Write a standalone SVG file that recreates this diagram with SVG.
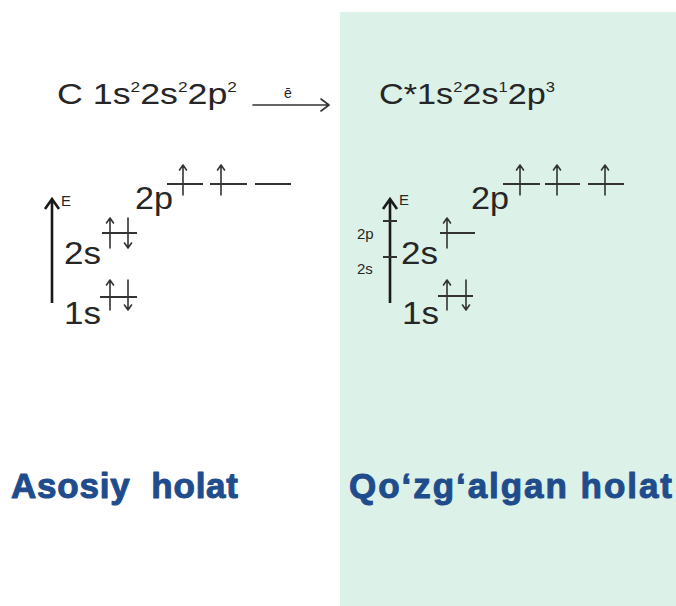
<svg xmlns="http://www.w3.org/2000/svg" width="676" height="606" viewBox="0 0 676 606">
<style>
.t{font-family:"Liberation Sans",Arial,sans-serif;fill:#262626}
.big{font-size:32px}
.sm{font-size:15px}
.lvl{stroke:#333;stroke-width:1.8;fill:none}
.e{stroke:#333;stroke-width:1.6;fill:none;stroke-linecap:round;stroke-linejoin:round}
.ax{stroke:#1a1a1a;stroke-width:2.6;fill:none;stroke-linejoin:miter}
.lab{font-family:"Liberation Sans",Arial,sans-serif;font-weight:bold;font-size:35px;fill:#1f4c8c;stroke:#1f4c8c;stroke-width:1;stroke-linejoin:round;white-space:pre}
</style>
<rect id="panel" x="340" y="12" width="336" height="594" fill="#dcf1e8"/>

<g id="title-ground">
<text class="t" x="57" y="104" font-size="29" textLength="180" lengthAdjust="spacingAndGlyphs">C 1s<tspan font-size="14" dy="-12">2</tspan><tspan dy="12">2s</tspan><tspan font-size="14" dy="-12">2</tspan><tspan dy="12">2p</tspan><tspan font-size="14" dy="-12">2</tspan></text>
</g>
<g id="title-excited">
<text class="t" x="379" y="104" font-size="29" textLength="176" lengthAdjust="spacingAndGlyphs">C*1s<tspan font-size="14" dy="-12">2</tspan><tspan dy="12">2s</tspan><tspan font-size="14" dy="-12">1</tspan><tspan dy="12">2p</tspan><tspan font-size="14" dy="-12">3</tspan></text>
</g>

<g id="connectors">
<path class="e" d="M253 105 H329 M321 99 L329 105 L321 111" stroke-width="1.5"/>
<text class="t" x="288" y="98" font-size="14" text-anchor="middle">ē</text>
</g>

<g id="ground-state">
<path class="ax" d="M52 303 V199 M45 209 L52 199 L59 209"/>
<text class="t sm" x="61" y="206">E</text>
<text class="t big" x="64" y="324" textLength="37" lengthAdjust="spacingAndGlyphs">1s</text>
<text class="t big" x="64" y="264" textLength="37" lengthAdjust="spacingAndGlyphs">2s</text>
<text class="t big" x="135" y="209" textLength="38" lengthAdjust="spacingAndGlyphs">2p</text>
<path class="lvl" d="M100 297 H137 M102 233 H137 M167 184 H203 M210 184 H247 M255 184 H291"/>
<path class="e" d="M110 310 V280 M106.5 285 L110 280 L113.5 285 M128 280 V310 M124.5 305 L128 310 L131.5 305"/>
<path class="e" d="M110 248 V218 M106.5 223 L110 218 L113.5 223 M128 218 V248 M124.5 243 L128 248 L131.5 243"/>
<path class="e" d="M183 195 V165 M179.5 170 L183 165 L186.5 170 M221 195 V165 M217.5 170 L221 165 L224.5 170"/>
</g>

<g id="excited-state">
<path class="ax" d="M390 303 V199 M383 209 L390 199 L397 209"/>
<path class="lvl" d="M383 221 H397 M383 257 H397" stroke="#1a1a1a"/>
<text class="t sm" x="399" y="205">E</text>
<text class="t sm" x="357" y="239">2p</text>
<text class="t sm" x="357" y="274">2s</text>
<text class="t big" x="402" y="324" textLength="37" lengthAdjust="spacingAndGlyphs">1s</text>
<text class="t big" x="401" y="264" textLength="37" lengthAdjust="spacingAndGlyphs">2s</text>
<text class="t big" x="471" y="209" textLength="38" lengthAdjust="spacingAndGlyphs">2p</text>
<path class="lvl" d="M438 296 H473 M440 233 H475 M503 184 H540 M545 184 H580 M588 184 H624"/>
<path class="e" d="M447 310 V280 M443.5 285 L447 280 L450.5 285 M466 280 V310 M462.5 305 L466 310 L469.5 305"/>
<path class="e" d="M447 248 V218 M443.5 223 L447 218 L450.5 223"/>
<path class="e" d="M520 195 V165 M516.5 170 L520 165 L523.5 170 M557 195 V165 M553.5 170 L557 165 L560.5 170 M605 195 V165 M601.5 170 L605 165 L608.5 170"/>
</g>

<g id="label-ground">
<text class="lab" x="11" y="498" textLength="227" lengthAdjust="spacing">Asosiy  holat</text>
</g>
<g id="label-excited">
<text class="lab" x="349" y="498" textLength="323" lengthAdjust="spacing">Qo‘zg‘algan holat</text>
</g>
</svg>
